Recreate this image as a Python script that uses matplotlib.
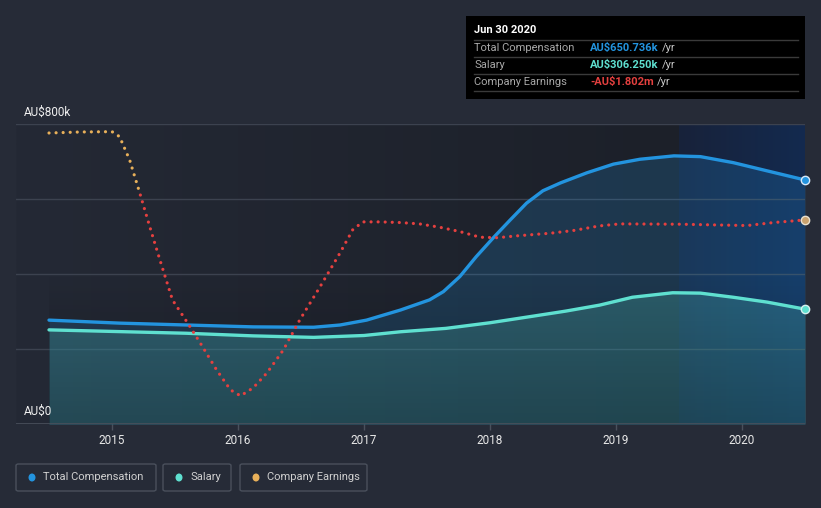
import numpy as np
import matplotlib.pyplot as plt
from matplotlib.patches import Rectangle, FancyBboxPatch, Ellipse
from matplotlib.colors import to_rgb

plt.rcParams['font.family'] = ['Roboto', 'DejaVu Sans']

# Total compensation (AU$k)
comp_years = [2014.5, 2015.06, 2015.59, 2016.12, 2016.6, 2016.81, 2017.02, 2017.29, 2017.52, 2017.63,
              2017.76, 2017.89, 2018.03, 2018.16, 2018.29, 2018.42, 2018.56, 2018.77, 2018.98, 2019.19,
              2019.46, 2019.67, 2019.93, 2020.2, 2020.5]
comp_vals = [277, 269, 264, 259, 258, 264, 277, 304, 331, 353,
             393, 446, 498, 544, 589, 622, 643, 670, 693, 706,
             715, 713, 697, 675, 650.736]

# Salary (AU$k)
sal_years = [2014.5, 2015.59, 2016.12, 2016.6, 2017.0, 2017.29, 2017.65, 2018.0, 2018.35, 2018.6,
             2018.87, 2019.13, 2019.45, 2019.67, 2019.93, 2020.2, 2020.5]
sal_vals = [251, 242, 235, 231, 236, 246, 255, 270, 288, 301,
            317, 338, 350, 349, 338, 325, 306.25]

# Company earnings (AU$m)
earn_years = [2014.5, 2014.75, 2015.0, 2015.06, 2015.14, 2015.22, 2015.3, 2015.38, 2015.48, 2015.6,
              2015.7, 2015.83, 2015.94, 2016.02, 2016.12, 2016.23, 2016.36, 2016.49, 2016.65, 2016.81,
              2016.91, 2016.99, 2017.13, 2017.29, 2017.44, 2017.6, 2017.76, 2017.92, 2018.06, 2018.21,
              2018.48, 2018.66, 2018.87, 2019.03, 2019.51, 2020.04, 2020.25, 2020.5]
earn_vals = [3.42, 3.48, 3.50, 3.20, 1.80, -0.18, -2.22, -4.20, -6.61, -7.99,
             -9.19, -10.81, -12.01, -12.37, -11.89, -10.99, -9.61, -7.81, -5.83, -3.78,
             -2.40, -1.92, -1.92, -1.96, -2.04, -2.24, -2.50, -2.84, -2.87, -2.76,
             -2.60, -2.44, -2.16, -2.04, -2.06, -2.14, -1.96, -1.802]

year_ticks = [2015, 2016, 2017, 2018, 2019, 2020]

BG = '#262b37'
BLUE = '#2394df'
TEAL = '#5fe0d0'
ORANGE = '#e8b05a'
RED = '#e5403f'
GRID = '#3c424f'

fig = plt.figure(figsize=(8.21, 5.08), dpi=100, facecolor=BG)
W, H = 821, 508
ax = fig.add_axes([16 / W, (H - 424) / H, 789 / W, 300 / H])
ax.set_facecolor(BG)
x0, x1 = 2014.238, 2020.5
ax.set_xlim(x0, x1)
ax.set_ylim(0, 800)

# plot area background: gradient to darker on the right, blue highlight after 2019.5
grad = np.linspace(0, 1, 256)
c_left, c_right = np.array(to_rgb('#242935')), np.array(to_rgb('#1c2029'))
img = c_left[None, :] * (1 - grad[:, None]) + c_right[None, :] * grad[:, None]
ax.imshow(img[None, :, :], extent=[x0, 2019.5, 0, 800], aspect='auto', zorder=0)
h_left, h_right = np.array(to_rgb('#18223a')), np.array(to_rgb('#132a4f'))
img2 = h_left[None, :] * (1 - grad[:, None]) + h_right[None, :] * grad[:, None]
ax.imshow(img2[None, :, :], extent=[2019.5, x1, 0, 800], aspect='auto', zorder=0)

for v in [200, 400, 600, 800]:
    ax.axhline(v, color=GRID, lw=1, zorder=1)

# fills
ax.fill_between(comp_years, comp_vals, 0, color=BLUE, alpha=0.2, lw=0, zorder=2)
ax.fill_between(sal_years, sal_vals, 0, color=TEAL, alpha=0.22, lw=0, zorder=3)
# darken toward bottom
shade = np.zeros((256, 1, 4))
shade[:, 0, 3] = np.linspace(0.0, 0.25, 256)
ax.imshow(shade, extent=[2014.5, x1, 0, 400], aspect='auto', zorder=3.5)

ax.plot(comp_years, comp_vals, color=BLUE, lw=2.4, zorder=5, solid_capstyle='round', solid_joinstyle='round')
ax.plot(sal_years, sal_vals, color=TEAL, lw=2.4, zorder=5, solid_capstyle='round', solid_joinstyle='round')
ax.plot([comp_years[-1]], [comp_vals[-1]], 'o', ms=6, color=BLUE, mec='#d8e8f8', mew=1, zorder=7, clip_on=False)
ax.plot([sal_years[-1]], [sal_vals[-1]], 'o', ms=6, color=TEAL, mec='#d8f0f0', mew=1, zorder=7, clip_on=False)

# earnings on a hidden secondary scale
ax2 = ax.twinx()
ax2.set_ylim(-14.06, 3.96)
ax2.axis('off')
for col, rect in [(ORANGE, Rectangle((x0, 0), x1 - x0, 10, transform=ax2.transData)),
                  (RED, Rectangle((x0, -20), x1 - x0, 20, transform=ax2.transData))]:
    ln, = ax2.plot(earn_years, earn_vals, color=col, lw=2.3, linestyle=(0, (0.01, 2.2)),
                   dash_capstyle='round', zorder=6)
    ln.set_clip_path(rect)
ax2.plot([earn_years[-1]], [earn_vals[-1]], 'o', ms=6, color='#c9a26e', mec='#e8e0d0', mew=1,
         zorder=7, clip_on=False)

# axes styling
for s in ax.spines.values():
    s.set_visible(False)
ax.axhline(0, color='#4a505c', lw=1.2, zorder=8)
ax.set_yticks([])
ax.set_xticks(year_ticks)
ax.set_xticklabels([str(y) for y in year_ticks])
ax.tick_params(axis='x', colors='#4a505c', length=4, width=1, pad=3, labelcolor='#e8e8e8', labelsize=8.5)

fig.text(24 / W, 1 - 112 / H, 'AU$800k', color='#f0f0f0', fontsize=8.5, va='center', ha='left')
fig.text(24 / W, 1 - 411 / H, 'AU$0', color='#f0f0f0', fontsize=8.5, va='center', ha='left')

# tooltip box
fig.patches.append(Rectangle((466 / W, 1 - 99 / H), 339 / W, 83 / H, transform=fig.transFigure,
                             facecolor='#000000', edgecolor='none'))
fig.text(474 / W, 1 - 30 / H, 'Jun 30 2020', color='white', fontsize=8, fontweight='bold', va='center')
for yl in [40, 57, 74, 91]:
    fig.add_artist(plt.Line2D([474 / W, 798 / W], [1 - yl / H, 1 - yl / H], color='#3a3a3a', lw=1))
rows = [('Total Compensation', 'AU$650.736k', BLUE),
        ('Salary', 'AU$306.250k', TEAL),
        ('Company Earnings', '-AU$1.802m', RED)]
for i, (lab, val, col) in enumerate(rows):
    yy = 1 - (48 + 17 * i) / H
    fig.text(474 / W, yy, lab, color='#a8a8a8', fontsize=8, va='center')
    t = fig.text(590 / W, yy, val, color=col, fontsize=8, fontweight='bold', va='center')
    fig.canvas.draw()
    bb = t.get_window_extent()
    fig.text(bb.x1 / W + 3 / W, yy, '/yr', color='#c8c8c8', fontsize=8, va='center')

# legend boxes
legend = [('Total Compensation', BLUE, 16, 156), ('Salary', TEAL, 163, 231), ('Company Earnings', ORANGE, 240, 367)]
for lab, col, lx, rx in legend:
    fig.patches.append(FancyBboxPatch((lx / W, 1 - 491 / H), (rx - lx) / W, 27 / H,
                                      boxstyle='round,pad=0,rounding_size=0.003', transform=fig.transFigure,
                                      facecolor='none', edgecolor='#4a505c', lw=1))
    fig.patches.append(Ellipse(((lx + 16) / W, 1 - 477.5 / H), 7 / W, 8 / H, transform=fig.transFigure,
                               facecolor=col, edgecolor='none'))
    fig.text((lx + 27) / W, 1 - 477.5 / H, lab, color='#d0d0d0', fontsize=8, va='center')

fig.savefig('out.png', dpi=100, facecolor=BG)
